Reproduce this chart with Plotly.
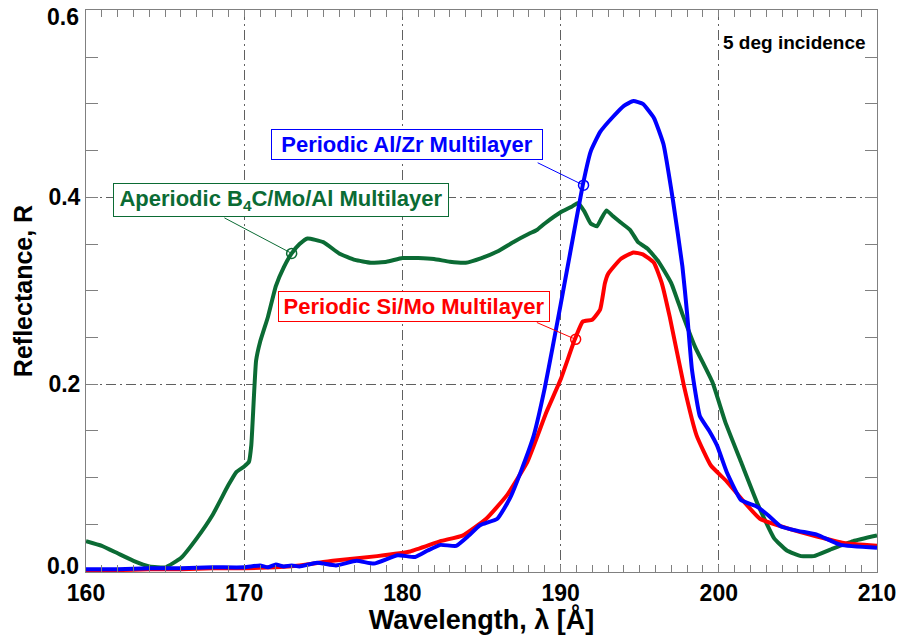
import plotly.graph_objects as go

# ---- data ----
green_x = [160, 161, 162, 163, 164, 165, 166, 167, 168, 169, 169.5, 170, 170.3, 170.45, 170.75,
           171, 171.5, 172, 172.5, 173, 173.5, 174, 175, 176, 177, 178, 179, 180, 181, 182, 183,
           184, 185, 186, 187, 188, 188.5, 189, 190, 190.7, 191.1, 191.5, 191.9, 192.3, 192.6,
           192.9, 193.3, 193.8, 194.4, 194.9, 195.5, 196.2, 197.0, 197.7, 198.5, 199.6, 200.4,
           201.4, 202.5, 203.5, 204.3, 205.2, 206.0, 207.2, 208.5, 210]
green_y = [0.032, 0.027, 0.019, 0.011, 0.005, 0.004, 0.014, 0.035, 0.060, 0.092, 0.106, 0.112,
           0.117, 0.135, 0.225, 0.245, 0.272, 0.305, 0.325, 0.340, 0.350, 0.356, 0.352, 0.340,
           0.333, 0.330, 0.331, 0.335, 0.335, 0.334, 0.331, 0.330, 0.335, 0.342, 0.352, 0.361,
           0.365, 0.372, 0.384, 0.390, 0.394, 0.385, 0.372, 0.369, 0.378, 0.386, 0.380, 0.373,
           0.365, 0.352, 0.345, 0.331, 0.308, 0.275, 0.240, 0.202, 0.160, 0.117, 0.070, 0.035,
           0.022, 0.016, 0.016, 0.024, 0.032, 0.038]

blue_x = [160, 162, 164, 166, 168, 170, 171, 171.5, 172, 172.5, 173, 173.5, 174.6, 175.8, 177.1,
          178.2, 179.7, 180.8, 181.6, 182.4, 183.4, 184.2, 184.9, 186.0, 186.8, 187.5, 188.3,
          189.0, 189.5, 190.0, 190.6, 191.4, 191.9, 192.5, 193.3, 194.0, 194.6, 195.2, 195.9,
          196.5, 197.1, 197.7, 198.0, 198.3, 198.8, 199.4, 199.9, 200.5, 201.4, 202.4, 203.1,
          203.9, 205.0, 206.2, 207.7, 210]
blue_y = [0.002, 0.002, 0.003, 0.003, 0.004, 0.004, 0.006, 0.004, 0.007, 0.005, 0.006, 0.005,
          0.009, 0.006, 0.011, 0.008, 0.017, 0.015, 0.022, 0.028, 0.027, 0.038, 0.049, 0.056,
          0.078, 0.107, 0.145, 0.196, 0.240, 0.285, 0.340, 0.413, 0.449, 0.470, 0.486, 0.498,
          0.503, 0.500, 0.485, 0.457, 0.397, 0.326, 0.275, 0.216, 0.166, 0.150, 0.134, 0.106,
          0.076, 0.069, 0.060, 0.048, 0.043, 0.039, 0.028, 0.025]

red_x = [160, 162, 164, 166, 168, 170, 172, 173.5, 175.6, 178.4, 180.5, 182.4, 183.8, 185.3,
         186.6, 187.9, 189.1, 190.0, 190.9, 191.4, 192.0, 192.5, 192.8, 193.0, 193.8, 194.6,
         195.2, 195.9, 196.4, 196.9, 197.8, 198.6, 199.5, 200.5, 201.6, 202.6, 204.3, 206.2,
         207.9, 210]
red_y = [0.001, 0.001, 0.002, 0.002, 0.003, 0.003, 0.004, 0.006, 0.011, 0.016, 0.021, 0.032,
         0.038, 0.056, 0.081, 0.117, 0.170, 0.205, 0.248, 0.267, 0.269, 0.280, 0.308, 0.318,
         0.334, 0.341, 0.339, 0.330, 0.308, 0.272, 0.198, 0.145, 0.113, 0.096, 0.074, 0.056,
         0.046, 0.037, 0.030, 0.027]

x_ticks = [160, 170, 180, 190, 200, 210]
y_ticks_inner = [0.2, 0.4]          # labelled by the axis
y_ticks_edge = [0.0, 0.6]           # labelled by text nudged inside, as in the reference

GREEN = "#0b6b34"
BLUE = "#0000ff"
RED = "#ff0000"
FONT = "Liberation Sans"

fig = go.Figure()
for xs, ys, col in [(green_x, green_y, GREEN), (red_x, red_y, RED), (blue_x, blue_y, BLUE)]:
    fig.add_trace(go.Scatter(x=xs, y=ys, mode="lines",
                             line=dict(color=col, width=4, shape="spline", smoothing=0.4),
                             showlegend=False, hoverinfo="skip"))

# labels: (text, box centre, line start, marked point, colour, width)
labels = [
    ("Periodic Al/Zr Multilayer", (180.3, 0.457), (188.55, 0.437), (191.45, 0.413), BLUE, 266),
    ("Aperiodic B<sub>4</sub>C/Mo/Al Multilayer", (172.3, 0.397), (168.75, 0.378), (173.0, 0.340), GREEN, 330),
    ("Periodic Si/Mo Multilayer", (180.75, 0.283), (188.5, 0.266), (190.95, 0.248), RED, 266),
]
for text, (bx, by), (lx, ly), (px, py), col, w in labels:
    fig.add_shape(type="line", x0=lx, y0=ly, x1=px, y1=py, xref="x", yref="y",
                  line=dict(color=col, width=1))
    fig.add_trace(go.Scatter(x=[px], y=[py], mode="markers",
                             marker=dict(symbol="circle-open", size=10, color=col,
                                         line=dict(width=1.5, color=col)),
                             showlegend=False, hoverinfo="skip"))
    fig.add_annotation(x=bx, y=by, xref="x", yref="y", text=text, showarrow=False,
                       font=dict(family=FONT, size=22, color=col, weight="bold"),
                       bordercolor=col, borderwidth=1, borderpad=2, bgcolor="white",
                       width=w)

for v in y_ticks_edge:
    fig.add_annotation(x=0, y=v, xref="paper", yref="y", xanchor="right", yanchor="middle",
                       xshift=-5, yshift=(5 if v == 0 else -7), text=f"{v:.1f}",
                       showarrow=False,
                       font=dict(family=FONT, size=23, color="black", weight="bold"))

fig.add_annotation(x=0.989, y=0.943, xref="paper", yref="paper", xanchor="right",
                   yanchor="middle", text="5 deg incidence", showarrow=False,
                   font=dict(family=FONT, size=19, color="black", weight="bold"))

frame = "#808080"
grid = "#606060"
fig.update_xaxes(range=[160, 210], tickvals=x_ticks, ticktext=[str(v) for v in x_ticks],
                 showline=True, linecolor=frame, linewidth=1, mirror="ticks",
                 ticks="inside", ticklen=7, tickcolor=frame,
                 minor=dict(dtick=1, ticks="inside", ticklen=7, tickcolor=frame, showgrid=False),
                 showgrid=True, gridcolor=grid, gridwidth=1, griddash="10px,4px,2px,4px",
                 zeroline=False, automargin=False, ticklabeloverflow="allow",
                 tickfont=dict(family=FONT, size=23, color="black", weight="bold"),
                 title=dict(text="Wavelength, λ [Å]", standoff=0,
                            font=dict(family=FONT, size=27, color="black", weight="bold")))
fig.update_yaxes(range=[-0.001, 0.6005], tickvals=y_ticks_inner,
                 ticktext=[f"{v:.1f}" for v in y_ticks_inner],
                 showline=True, linecolor=frame, linewidth=1, mirror="ticks",
                 ticks="inside", ticklen=12, tickcolor=frame,
                 minor=dict(dtick=0.05, ticks="inside", ticklen=12, tickcolor=frame, showgrid=False),
                 showgrid=True, gridcolor=grid, gridwidth=1, griddash="10px,4px,2px,4px",
                 zeroline=False, automargin=False, ticklabeloverflow="allow",
                 tickfont=dict(family=FONT, size=23, color="black", weight="bold"),
                 title=dict(text="Reflectance, R", standoff=8,
                            font=dict(family=FONT, size=25, color="black", weight="bold")))

fig.update_layout(width=898, height=635, margin=dict(l=86, r=21, t=10, b=63),
                  plot_bgcolor="white", paper_bgcolor="white", showlegend=False)

fig.write_html("out.html", config={"displayModeBar": False},
               post_script="document.body.style.margin='0';")
